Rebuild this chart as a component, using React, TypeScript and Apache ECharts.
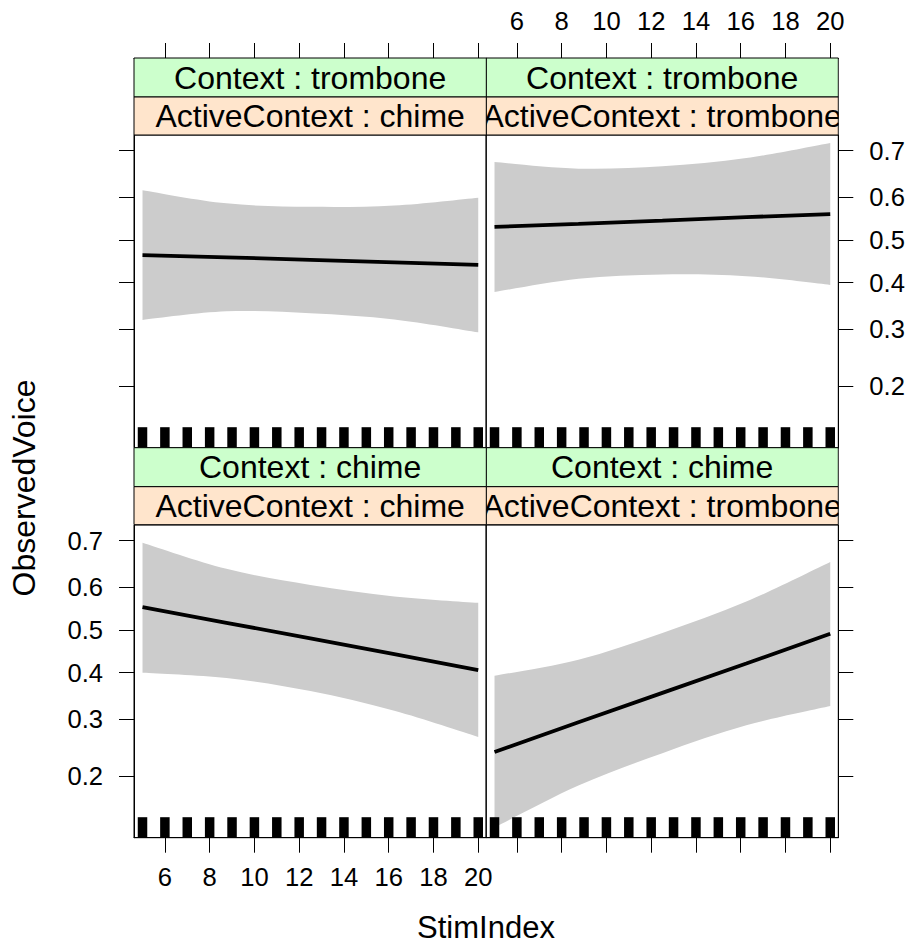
import React, { useEffect, useRef } from "react";
import * as echarts from "echarts";

// ---------- data ----------
const stimIndex = [5, 8.75, 12.5, 16.25, 20];
const rugStim = [5, 6, 7, 8, 9, 10, 11, 12, 13, 14, 15, 16, 17, 18, 19, 20];
const xTicks = [6, 8, 10, 12, 14, 16, 18, 20];
const yTicks = [0.2, 0.3, 0.4, 0.5, 0.6, 0.7];

// Context : trombone / ActiveContext : chime
const tcFit = [0.464, 0.459, 0.453, 0.447, 0.441];
const tcUpper = [0.616, 0.586, 0.578, 0.581, 0.599];
const tcLower = [0.319, 0.337, 0.333, 0.32, 0.294];
// Context : trombone / ActiveContext : trombone
const ttFit = [0.531, 0.538, 0.546, 0.554, 0.561];
const ttUpper = [0.677, 0.663, 0.668, 0.685, 0.715];
const ttLower = [0.379, 0.409, 0.419, 0.415, 0.395];
// Context : chime / ActiveContext : chime
const ccFit = [0.554, 0.517, 0.48, 0.443, 0.406];
const ccUpper = [0.696, 0.641, 0.605, 0.579, 0.564];
const ccLower = [0.4, 0.388, 0.359, 0.317, 0.266];
// Context : chime / ActiveContext : trombone
const ctFit = [0.239, 0.294, 0.355, 0.421, 0.491];
const ctUpper = [0.393, 0.43, 0.493, 0.567, 0.656];
const ctLower = [0.133, 0.186, 0.237, 0.288, 0.327];

// ---------- layout ----------
const FONT = '"Liberation Sans", Arial, Helvetica, sans-serif';
const COL_X = [134, 486];
const PW = 352.3;
const ROW_PLOT_TOP = [135, 525];
const PH = 312.7;
const STRIP_TOP = [58, 447.7];
const STRIP_H1 = 39; // green (Context)
const STRIP_H2 = 38; // orange (ActiveContext)
const X_MIN = 4.62;
const X_MAX = 20.36;
const Y_MIN = -1.971;
const Y_MAX = 0.996;

const logit = (p: number) => Math.log(p / (1 - p));
const invLogit = (v: number) => 1 / (1 + Math.exp(-v));

const panels = [
  { ctx: "trombone", act: "chime", fit: tcFit, up: tcUpper, lo: tcLower, row: 0, col: 0 },
  { ctx: "trombone", act: "trombone", fit: ttFit, up: ttUpper, lo: ttLower, row: 0, col: 1 },
  { ctx: "chime", act: "chime", fit: ccFit, up: ccUpper, lo: ccLower, row: 1, col: 0 },
  { ctx: "chime", act: "trombone", fit: ctFit, up: ctUpper, lo: ctLower, row: 1, col: 1 },
];

// smooth curve through pixel points (rendering only)
function curveThrough(pts: number[][]): string {
  let s = "";
  const n = pts.length;
  for (let k = 0; k < n - 1; k++) {
    const p0 = pts[Math.max(0, k - 1)];
    const p1 = pts[k];
    const p2 = pts[k + 1];
    const p3 = pts[Math.min(n - 1, k + 2)];
    const c1x = p1[0] + (p2[0] - p0[0]) / 6;
    const c1y = p1[1] + (p2[1] - p0[1]) / 6;
    const c2x = p2[0] - (p3[0] - p1[0]) / 6;
    const c2y = p2[1] - (p3[1] - p1[1]) / 6;
    s += ` C ${c1x} ${c1y} ${c2x} ${c2y} ${p2[0]} ${p2[1]}`;
  }
  return s;
}

function buildOption() {
  const yTickVals = yTicks.map(logit);
  const grid = panels.map((p) => ({
    left: COL_X[p.col],
    top: ROW_PLOT_TOP[p.row],
    width: PW,
    height: PH,
    show: true,
    borderColor: "#000",
    borderWidth: 1,
    backgroundColor: "transparent",
  }));

  const xAxis = panels.map((p, i) => {
    const showLab = (p.row === 0 && p.col === 1) || (p.row === 1 && p.col === 0);
    return {
      type: "value",
      gridIndex: i,
      min: X_MIN,
      max: X_MAX,
      position: p.row === 0 ? "top" : "bottom",
      offset: p.row === 0 ? STRIP_H1 + STRIP_H2 : 0,
      axisLine: { show: true, onZero: false, lineStyle: { color: "#000", width: 1 } },
      axisTick: { show: true, inside: false, length: 15, customValues: xTicks, lineStyle: { color: "#000", width: 1 } },
      axisLabel: {
        show: showLab,
        customValues: xTicks,
        margin: p.row === 0 ? 24 : 26,
        color: "#000",
        fontSize: 25.6,
        fontFamily: FONT,
      },
      splitLine: { show: false },
      z: 5,
    };
  });

  const yAxis = panels.map((p, i) => {
    const showLab = (p.row === 1 && p.col === 0) || (p.row === 0 && p.col === 1);
    return {
      type: "value",
      gridIndex: i,
      min: Y_MIN,
      max: Y_MAX,
      position: p.col === 0 ? "left" : "right",
      axisLine: { show: true, onZero: false, lineStyle: { color: "#000", width: 1 } },
      axisTick: { show: true, inside: false, length: 15, customValues: yTickVals, lineStyle: { color: "#000", width: 1 } },
      axisLabel: {
        show: showLab,
        customValues: yTickVals,
        margin: 31,
        color: "#000",
        fontSize: 25.6,
        fontFamily: FONT,
        formatter: (v: number) => invLogit(v).toFixed(1),
      },
      splitLine: { show: false },
      z: 5,
    };
  });

  const series: any[] = [];
  panels.forEach((p, i) => {
    // confidence band: polygon between lower and upper edges
    series.push({
      type: "custom",
      xAxisIndex: i,
      yAxisIndex: i,
      data: stimIndex.map((x, j) => [x, logit(p.lo[j]), logit(p.up[j])]),
      encode: { x: 0, y: [1, 2] },
      renderItem: (params: any, api: any) => {
        if (params.dataIndexInside !== 0) return null;
        const n = params.dataInsideLength;
        const up: number[][] = [];
        const lo: number[][] = [];
        for (let k = 0; k < n; k++) {
          const x = api.value(0, k);
          up.push(api.coord([x, api.value(2, k)]));
          lo.push(api.coord([x, api.value(1, k)]));
        }
        const loRev = lo.slice().reverse();
        const d =
          `M ${up[0][0]} ${up[0][1]}` +
          curveThrough(up) +
          ` L ${loRev[0][0]} ${loRev[0][1]}` +
          curveThrough(loRev) +
          " Z";
        return { type: "path", shape: { pathData: d }, style: { fill: "#cccccc", stroke: "none" } };
      },
      silent: true,
      z: 1,
    });
    series.push({
      type: "line",
      xAxisIndex: i,
      yAxisIndex: i,
      data: stimIndex.map((x, j) => [x, logit(p.fit[j])]),
      symbol: "none",
      lineStyle: { color: "#000", width: 3.8 },
      silent: true,
      z: 3,
    });
    series.push({
      type: "scatter",
      xAxisIndex: i,
      yAxisIndex: i,
      data: rugStim.map((x) => [x, Y_MIN]),
      symbol: "rect",
      symbolSize: [9.5, 20.5],
      symbolOffset: [0, -10.25],
      itemStyle: { color: "#000", opacity: 1 },
      clip: false,
      silent: true,
      z: 4,
    });
  });

  const graphic: any[] = [];
  // draw right column strips first, then left ones (so left rects clip overflowing text)
  const order = [1, 3, 0, 2];
  order.forEach((k) => {
    const p = panels[k];
    const x0 = COL_X[p.col];
    const y0 = STRIP_TOP[p.row];
    graphic.push({
      type: "rect",
      shape: { x: x0, y: y0, width: PW, height: STRIP_H1 },
      style: { fill: "#ccffcc", stroke: "#000", lineWidth: 1 },
      z: 10,
    });
    graphic.push({
      type: "rect",
      shape: { x: x0, y: y0 + STRIP_H1, width: PW, height: STRIP_H2 },
      style: { fill: "#ffe5cc", stroke: "#000", lineWidth: 1 },
      z: 10,
    });
    graphic.push({
      type: "text",
      x: x0 + PW / 2,
      y: y0 + STRIP_H1 / 2,
      style: {
        text: "Context : " + p.ctx,
        fill: "#000",
        fontSize: 32,
        fontFamily: FONT,
        align: "center",
        verticalAlign: "middle",
        textAlign: "center",
        textVerticalAlign: "middle",
      },
      z: 10,
    });
    graphic.push({
      type: "text",
      x: x0 + PW / 2,
      y: y0 + STRIP_H1 + STRIP_H2 / 2,
      style: {
        text: "ActiveContext : " + p.act,
        fill: "#000",
        fontSize: 32,
        fontFamily: FONT,
        align: "center",
        verticalAlign: "middle",
        textAlign: "center",
        textVerticalAlign: "middle",
      },
      z: 10,
    });
  });
  // white cover for text overflowing past the right border
  STRIP_TOP.forEach((y0) => {
    graphic.push({
      type: "rect",
      shape: { x: COL_X[1] + PW + 0.6, y: y0 + 1, width: 12, height: STRIP_H1 + STRIP_H2 - 1 },
      style: { fill: "#fff" },
      z: 11,
    });
  });
  graphic.push({
    type: "text",
    x: 24,
    y: 488,
    rotation: Math.PI / 2,
    style: {
      text: "ObservedVoice",
      fill: "#000",
      fontSize: 32,
      fontFamily: FONT,
      align: "center",
      verticalAlign: "middle",
      textAlign: "center",
      textVerticalAlign: "middle",
    },
  });
  graphic.push({
    type: "text",
    x: 486,
    y: 927,
    style: {
      text: "StimIndex",
      fill: "#000",
      fontSize: 31,
      fontFamily: FONT,
      align: "center",
      verticalAlign: "middle",
      textAlign: "center",
      textVerticalAlign: "middle",
    },
  });

  return {
    animation: false,
    backgroundColor: "#fff",
    grid,
    xAxis,
    yAxis,
    series,
    graphic,
  };
}

export default function App() {
  const ref = useRef<HTMLDivElement>(null);
  useEffect(() => {
    document.body.style.margin = "0";
    const chart = echarts.init(ref.current as HTMLDivElement, null, { renderer: "svg" });
    chart.setOption(buildOption() as any);
    return () => chart.dispose();
  }, []);
  return <div ref={ref} style={{ width: 909, height: 945 }} />;
}
